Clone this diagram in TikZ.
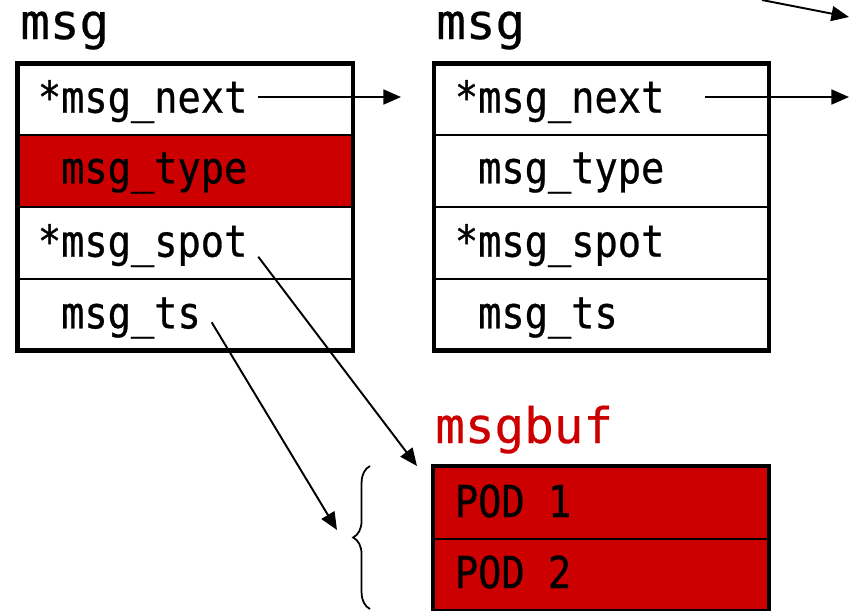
\documentclass[tikz,border=0pt]{standalone}
\usepackage{fontspec}
\newfontfamily\codefont[FakeBold=0.4]{DejaVu Sans Mono}
\newfontfamily\fieldfont[FakeStretch=0.88,FakeBold=0.6]{DejaVu Sans Mono}
\usetikzlibrary{arrows.meta,decorations.pathreplacing}
\definecolor{msgred}{RGB}{204,0,0}

\begin{document}
\begin{tikzpicture}[x=0.02cm,y=-0.02cm]
		\tikzset{title/.style = {anchor=base west, inner sep=0pt, font=\codefont\fontsize{28}{31}\selectfont},
			field/.style = {anchor=base west, inner xsep=6pt, inner ysep=0pt, font=\fieldfont\fontsize{25}{28}\selectfont},
			frame/.style = {line width=2.8pt},
			sep/.style = {line width=1.2pt},
			ptr/.style = {line width=1.1pt, -{Triangle[length=10pt,width=8.5pt]}}}

		\useasboundingbox (0,0) rectangle (853,610);

		\fill[msgred] (17.5,134.7) rectangle (353,207.3);
		\draw[sep] (17.5,134.7) -- (353,134.7);
		\draw[sep] (17.5,207.3) -- (353,207.3);
		\draw[sep] (17.5,279.3) -- (353,279.3);
		\draw[frame] (17.5,63.5) rectangle (353,350.5);

		\draw[sep] (434,134.7) -- (769,134.7);
		\draw[sep] (434,207.3) -- (769,207.3);
		\draw[sep] (434,279.3) -- (769,279.3);
		\draw[frame] (434,63.5) rectangle (769,350.5);

		\fill[msgred] (433,466) rectangle (769,611);
		\draw[sep] (433,538.7) -- (769,538.7);
		\draw[frame] (433,466) rectangle (769,611);

		\node[title] (msgA) at (20,39) {msg};
		\node[field] (nextA) at (27,112.7) {*msg\_next};
		\node[field] (typeA) at (27,183.3) {\phantom{*}msg\_type};
		\node[field] (spotA) at (27,256.7) {*msg\_spot};
		\node[field] (tsA) at (27,328.3) {\phantom{*}msg\_ts};

		\node[title] (msgB) at (436,39) {msg};
		\node[field] (nextB) at (444,112.7) {*msg\_next};
		\node[field] (typeB) at (444,183.3) {\phantom{*}msg\_type};
		\node[field] (spotB) at (444,256.7) {*msg\_spot};
		\node[field] (tsB) at (444,328.3) {\phantom{*}msg\_ts};

		\node[title, text=msgred] (buf) at (435,443) {msgbuf};
		\node[field] (pod1) at (444,517) {POD 1};
		\node[field] (pod2) at (444,588) {POD 2};

		\coordinate (nextAend) at (401,97);
		\coordinate (nextBstart) at (705,97);
		\coordinate (nextBend) at (849,97);
		\coordinate (prevstart) at (762,0);
		\coordinate (prevend) at (849,17);
		\coordinate (spotend) at (417,466);
		\coordinate (tsend) at (337,530);
		\coordinate (bracelo) at (370,609);
		\coordinate (bracehi) at (370,466);

		\draw[ptr] (nextAend -| nextA.east) -- (nextAend);
		\draw[ptr] (nextBstart) -- (nextBend);
		\draw[ptr] (prevstart) -- (prevend);
		\draw[ptr] (spotA.base east) -- (spotend);
		\draw[ptr] ([yshift=0.12cm]tsA.base east) -- (tsend);
		\draw[line width=1pt, decorate, decoration={brace, amplitude=9.6pt}] (bracelo) -- (bracehi);

	\end{tikzpicture}
\end{document}
